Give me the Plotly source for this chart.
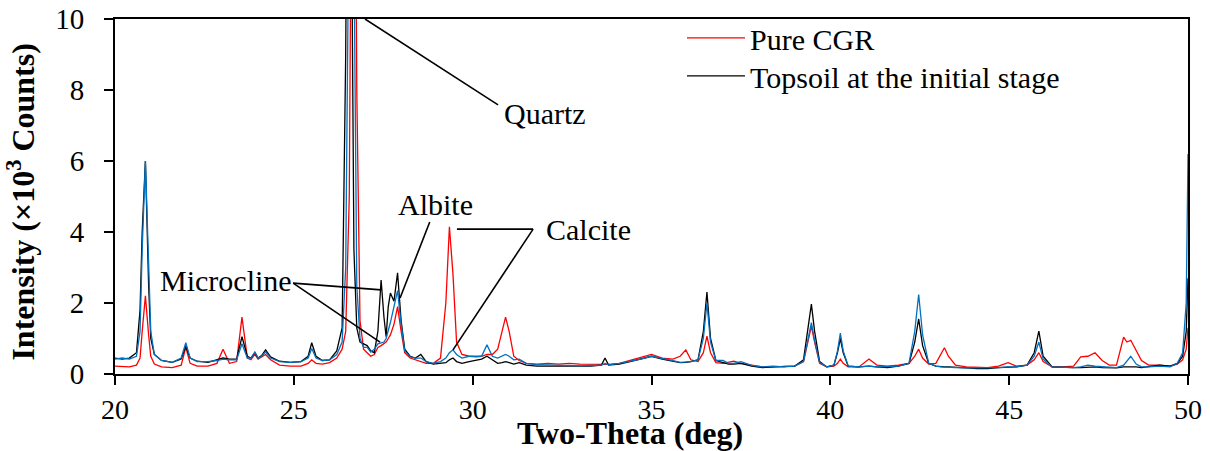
import plotly.graph_objects as go

# 2-theta sampling positions (deg) shared by all three patterns
two_theta = [
    20.0, 20.2, 20.4, 20.6, 20.7, 20.76, 20.85, 20.94, 21.0, 21.1,
    21.3, 21.6, 21.85, 21.98, 22.1, 22.3, 22.6, 22.85, 23.02, 23.2,
    23.4, 23.55, 23.7, 23.8, 23.91, 24.0, 24.1, 24.21, 24.35, 24.6,
    24.9, 25.2, 25.4, 25.5, 25.62, 25.8, 26.0, 26.2, 26.35, 26.45,
    26.55, 26.62, 26.68, 26.76, 26.85, 26.95, 27.05, 27.15, 27.25, 27.35,
    27.44, 27.52, 27.58, 27.64, 27.7, 27.8, 27.9, 28.0, 28.1, 28.25,
    28.4, 28.55, 28.7, 28.9, 29.1, 29.25, 29.35, 29.45, 29.55, 29.7,
    29.9, 30.1, 30.25, 30.4, 30.55, 30.7, 30.82, 30.92, 31.02, 31.15,
    31.3, 31.5, 31.8, 32.1, 32.4, 32.7, 33.0, 33.3, 33.6, 33.7,
    33.8, 34.1, 34.4, 34.7, 35.0, 35.3, 35.6, 35.8, 35.96, 36.1,
    36.3, 36.45, 36.55, 36.65, 36.8, 37.0, 37.15, 37.3, 37.5, 37.8,
    38.1, 38.4, 38.7, 39.0, 39.25, 39.38, 39.47, 39.56, 39.7, 39.9,
    40.1, 40.2, 40.28, 40.36, 40.5, 40.8, 41.08, 41.3, 41.6, 41.9,
    42.2, 42.36, 42.47, 42.58, 42.75, 42.95, 43.1, 43.19, 43.3, 43.5,
    43.8, 44.1, 44.4, 44.7, 44.97, 45.2, 45.5, 45.7, 45.83, 45.95,
    46.2, 46.5, 46.8, 47.0, 47.2, 47.4, 47.6, 47.8, 48.0, 48.2,
    48.29, 48.4, 48.55, 48.7, 48.9, 49.2, 49.5, 49.7, 49.85, 49.95,
    50.0,
]

# Intensities in 10^3 counts
pure_cgr = [
    0.22, 0.20, 0.20, 0.25, 0.45, 1.2, 2.2, 1.1, 0.50, 0.28,
    0.20, 0.18, 0.25, 0.75, 0.30, 0.22, 0.22, 0.30, 0.70, 0.30,
    0.35, 1.6, 0.45, 0.40, 0.55, 0.42, 0.48, 0.55, 0.40, 0.25,
    0.22, 0.22, 0.30, 0.40, 0.30, 0.28, 0.32, 0.45, 0.70, 1.2,
    5.0, 16.0, 22.0, 8.0, 1.5, 0.70, 0.60, 0.50, 0.55, 0.75,
    0.80, 0.85, 0.90, 1.0, 1.1, 1.4, 1.9, 1.2, 0.60, 0.45,
    0.40, 0.35, 0.30, 0.30, 0.45, 2.0, 4.15, 2.8, 0.90, 0.55,
    0.50, 0.48, 0.50, 0.55, 0.55, 0.70, 1.2, 1.6, 1.2, 0.50,
    0.38, 0.30, 0.28, 0.30, 0.28, 0.30, 0.28, 0.28, 0.26, 0.28,
    0.27, 0.30, 0.38, 0.45, 0.55, 0.45, 0.42, 0.50, 0.68, 0.40,
    0.35, 0.60, 1.07, 0.60, 0.32, 0.30, 0.32, 0.36, 0.30, 0.25,
    0.20, 0.20, 0.20, 0.22, 0.35, 1.0, 1.35, 0.90, 0.30, 0.20,
    0.22, 0.30, 0.42, 0.30, 0.20, 0.20, 0.42, 0.25, 0.22, 0.25,
    0.30, 0.50, 0.70, 0.45, 0.28, 0.30, 0.55, 0.74, 0.50, 0.25,
    0.20, 0.18, 0.18, 0.22, 0.32, 0.22, 0.25, 0.40, 0.60, 0.35,
    0.20, 0.20, 0.22, 0.48, 0.50, 0.60, 0.38, 0.25, 0.25, 1.04,
    0.90, 0.95, 0.65, 0.38, 0.25, 0.25, 0.22, 0.28, 0.40, 0.70,
    1.3,
]

topsoil_initial = [
    0.45, 0.42, 0.45, 0.60, 1.8, 4.0, 6.0, 2.5, 1.0, 0.55,
    0.38, 0.33, 0.42, 0.78, 0.45, 0.36, 0.33, 0.40, 0.45, 0.42,
    0.42, 1.05, 0.50, 0.45, 0.60, 0.45, 0.52, 0.68, 0.48, 0.36,
    0.33, 0.35, 0.50, 0.88, 0.50, 0.38, 0.40, 0.65, 1.3, 9.0,
    24.0, 12.0, 3.5, 1.3, 0.90, 0.85, 0.80, 0.65, 0.60, 1.2,
    2.65, 1.6, 1.05, 1.9, 2.28, 2.05, 2.85, 1.5, 0.70, 0.50,
    0.45, 0.55, 0.35, 0.28, 0.30, 0.32, 0.40, 0.45, 0.35, 0.30,
    0.35, 0.40, 0.42, 0.50, 0.40, 0.30, 0.32, 0.35, 0.32, 0.28,
    0.32, 0.25, 0.22, 0.22, 0.20, 0.22, 0.20, 0.22, 0.25, 0.45,
    0.25, 0.28, 0.35, 0.42, 0.50, 0.42, 0.35, 0.32, 0.33, 0.35,
    0.40, 1.2, 2.31, 1.0, 0.38, 0.32, 0.28, 0.28, 0.30, 0.22,
    0.18, 0.20, 0.20, 0.22, 0.40, 1.4, 1.97, 1.2, 0.35, 0.20,
    0.25, 0.60, 1.0, 0.60, 0.22, 0.20, 0.22, 0.20, 0.18, 0.22,
    0.30, 0.90, 1.55, 0.80, 0.30, 0.22, 0.20, 0.20, 0.20, 0.18,
    0.17, 0.15, 0.15, 0.18, 0.20, 0.20, 0.25, 0.60, 1.21, 0.50,
    0.20, 0.18, 0.18, 0.18, 0.20, 0.20, 0.18, 0.17, 0.17, 0.20,
    0.20, 0.22, 0.20, 0.18, 0.20, 0.25, 0.22, 0.30, 0.50, 1.2,
    2.7,
]

topsoil_blue = [
    0.42, 0.45, 0.42, 0.50, 1.2, 3.5, 6.0, 3.0, 1.2, 0.55,
    0.38, 0.33, 0.45, 0.88, 0.45, 0.35, 0.35, 0.38, 0.42, 0.40,
    0.40, 0.85, 0.45, 0.45, 0.62, 0.45, 0.50, 0.62, 0.45, 0.35,
    0.33, 0.35, 0.45, 0.72, 0.45, 0.38, 0.40, 0.55, 0.90, 3.0,
    14.0, 22.0, 12.0, 2.5, 1.0, 0.75, 0.75, 0.62, 0.70, 0.85,
    0.88, 0.90, 1.0, 1.2, 1.45, 1.9, 2.35, 1.4, 0.65, 0.48,
    0.45, 0.45, 0.35, 0.30, 0.35, 0.45, 0.60, 0.68, 0.55, 0.45,
    0.50, 0.50, 0.50, 0.82, 0.50, 0.45, 0.50, 0.55, 0.50, 0.40,
    0.42, 0.30, 0.26, 0.25, 0.24, 0.25, 0.23, 0.24, 0.25, 0.30,
    0.26, 0.30, 0.35, 0.42, 0.50, 0.45, 0.38, 0.33, 0.35, 0.35,
    0.40, 1.0, 2.0, 0.90, 0.38, 0.38, 0.30, 0.30, 0.35, 0.24,
    0.20, 0.22, 0.20, 0.22, 0.35, 1.0, 1.45, 0.95, 0.32, 0.20,
    0.25, 0.65, 1.15, 0.65, 0.22, 0.20, 0.22, 0.20, 0.20, 0.22,
    0.30, 1.2, 2.24, 1.1, 0.30, 0.22, 0.20, 0.20, 0.20, 0.18,
    0.17, 0.17, 0.16, 0.18, 0.20, 0.20, 0.25, 0.50, 0.90, 0.42,
    0.20, 0.18, 0.18, 0.20, 0.25, 0.22, 0.20, 0.18, 0.18, 0.25,
    0.35, 0.50, 0.28, 0.20, 0.20, 0.22, 0.20, 0.30, 0.60, 2.0,
    6.2,
]

x_ticks = [20, 25, 30, 35, 40, 45, 50]
y_ticks = [0, 2, 4, 6, 8, 10]

# Phase labels: (text, x, y, xanchor) and their leader lines (x0, y0, x1, y1)
phase_labels = [
    ("Quartz", 30.82, 7.35, "left"),
    ("Microcline", 25.0, 2.62, "right"),
    ("Albite", 28.95, 4.78, "center"),
    ("Calcite", 32.0, 4.08, "left"),
]
leader_lines = [
    (26.99, 10.0, 30.71, 7.58),
    (24.98, 2.56, 27.44, 2.37),
    (24.98, 2.56, 27.41, 0.90),
    (28.80, 4.28, 27.97, 2.14),
    (31.69, 4.08, 29.56, 4.08),
    (31.69, 4.08, 29.45, 0.68),
]

SERIF = "Liberation Serif, Times New Roman, serif"

fig = go.Figure()
fig.add_trace(go.Scatter(x=two_theta, y=pure_cgr, mode="lines", name="Pure CGR",
                         legend="legend",
                         line=dict(color="#FF0000", width=1.3)))
fig.add_trace(go.Scatter(x=two_theta, y=topsoil_initial, mode="lines",
                         name="Topsoil at the initial stage", legend="legend2",
                         line=dict(color="#000000", width=1.3)))
fig.add_trace(go.Scatter(x=two_theta, y=topsoil_blue, mode="lines", showlegend=False,
                         line=dict(color="#0070C0", width=1.3)))

for x0, y0, x1, y1 in leader_lines:
    fig.add_shape(type="line", xref="x", yref="y", x0=x0, y0=y0, x1=x1, y1=y1,
                  line=dict(color="black", width=1.6))

for text, x, y, anchor in phase_labels:
    fig.add_annotation(x=x, y=y, text=text, showarrow=False, xanchor=anchor,
                       yanchor="middle", font=dict(family=SERIF, size=30, color="black"))

# Axis titles placed as paper-anchored text
title_font = dict(family=SERIF, size=32, color="black")
fig.add_annotation(xref="paper", yref="paper", x=0.4795, y=-0.1660,
                   text="<b>Two-Theta (deg)</b>", showarrow=False,
                   xanchor="center", yanchor="middle", font=title_font)
fig.add_annotation(xref="paper", yref="paper", x=-0.088, y=0.4845,
                   text="<b>Intensity (×10<sup>3</sup> Counts)</b>", showarrow=False,
                   textangle=-90, xanchor="center", yanchor="middle", font=title_font)

axis_common = dict(
    showgrid=False, zeroline=False, showline=True, linecolor="black", linewidth=2,
    mirror=True, ticks="outside", ticklen=9, tickwidth=2, tickcolor="black",
    automargin=False,
)

legend_common = dict(
    xanchor="left", yanchor="top", bgcolor="rgba(0,0,0,0)", itemwidth=58,
    font=dict(family=SERIF, size=30, color="black"),
)

fig.update_layout(
    width=1210, height=451,
    margin=dict(l=115, r=22, t=19, b=77),
    paper_bgcolor="white", plot_bgcolor="white",
    font=dict(family=SERIF, color="black"),
    xaxis=dict(range=[20, 50], tickvals=x_ticks, **axis_common,
               tickfont=dict(family=SERIF, size=28, color="black")),
    yaxis=dict(range=[0, 10], tickvals=y_ticks, ticklabelstandoff=14, **axis_common,
               tickfont=dict(family=SERIF, size=29, color="black")),
    legend=dict(x=0.5284, y=1.020, **legend_common),
    legend2=dict(x=0.5284, y=0.913, **legend_common),
    showlegend=True,
)

fig.write_html("out.html")
